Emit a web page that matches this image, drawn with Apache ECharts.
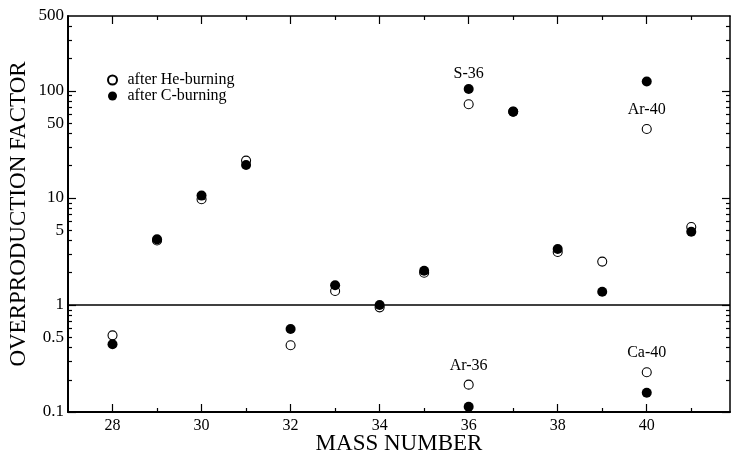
<!DOCTYPE html>
<html>
<head>
<meta charset="utf-8">
<script src="https://cdn.jsdelivr.net/npm/echarts@6/dist/echarts.min.js"></script>
<style>
  html, body { margin: 0; padding: 0; background: #fff; }
  #chart { width: 732px; height: 456px; }
</style>
</head>
<body>
<div id="chart"></div>
<script>
// mass numbers and overproduction factors
const massNumbers = [28, 29, 30, 31, 32, 33, 34, 35, 36, 37, 38, 39, 40, 41]
const heBurning = [0.52, 4.0, 9.7, 22.3, 0.42, 1.35, 0.95, 2.0, 75, 64, 3.12, 2.54, 44, 5.35]
const cBurning = [0.43, 4.1, 10.5, 20.3, 0.595, 1.53, 1.0, 2.09, 104, 63.9, 3.33, 1.33, 122, 4.83]
// second isotope plotted at the same mass number
const lowMassNumbers = [36, 40]
const heBurningLow = [0.18, 0.235]
const cBurningLow = [0.112, 0.151]
// isotope names written next to points
const heLabels = { 40: 'Ar-40' }
const heLowLabels = { 36: 'Ar-36', 40: 'Ca-40' }
const cLabels = { 36: 'S-36' }

const xLabelTicks = [28, 30, 32, 34, 36, 38, 40]
const xMinorTicks = [29, 31, 33, 35, 37, 39, 41]
const yLabelTicks = [0.1, 0.5, 1, 5, 10, 50, 100, 500]
const yMajorTicks = [0.1, 1, 10, 100]
const yMinorTicks = [0.2, 0.3, 0.4, 0.5, 0.6, 0.7, 0.8, 0.9, 2, 3, 4, 5, 6, 7, 8, 9,
  20, 30, 40, 50, 60, 70, 80, 90, 200, 300, 400]

const FONT = 'Liberation Serif'

function points(xs, ys, labels, dist) {
  return xs.map((x, i) => {
    const item = { value: [x, ys[i]] }
    if (labels[x]) {
      item.label = {
        show: true,
        position: 'top',
        distance: dist,
        formatter: labels[x],
        color: '#000',
        fontFamily: FONT,
        fontSize: 16
      }
    }
    return item
  })
}

function xAxis(pos, ticks, len, showLabel, lineWidth) {
  return {
    type: 'value',
    position: pos,
    min: 27,
    max: 41.87,
    axisLine: { show: lineWidth > 0, onZero: false, lineStyle: { color: '#000', width: lineWidth } },
    axisTick: { show: true, inside: true, length: len, customValues: ticks, lineStyle: { color: '#000', width: 1.2 } },
    axisLabel: showLabel
      ? { show: true, customValues: xLabelTicks, color: '#000', fontFamily: FONT, fontSize: 16, margin: 6 }
      : { show: false },
    splitLine: { show: false }
  }
}

function yAxis(pos, ticks, len, showLabel, lineWidth) {
  return {
    type: 'log',
    logBase: 10,
    position: pos,
    min: 0.1,
    max: 500,
    axisLine: { show: lineWidth > 0, onZero: false, lineStyle: { color: '#000', width: lineWidth } },
    axisTick: { show: true, inside: true, length: len, customValues: ticks, lineStyle: { color: '#000', width: 1.2 } },
    axisLabel: showLabel
      ? {
          show: true,
          customValues: yLabelTicks,
          color: '#000',
          fontFamily: FONT,
          fontSize: 17,
          margin: 4,
          formatter: v => String(Math.round(v * 10) / 10)
        }
      : { show: false },
    splitLine: { show: false }
  }
}

const xMain = xAxis('bottom', xLabelTicks, 8, true, 2)
xMain.name = 'MASS NUMBER'
xMain.nameLocation = 'middle'
xMain.nameGap = 20
xMain.nameMoveOverlap = false
xMain.nameTextStyle = { color: '#000', fontFamily: FONT, fontSize: 23 }

const yMain = yAxis('left', yMajorTicks, 8, true, 2)
yMain.name = 'OVERPRODUCTION FACTOR'
yMain.nameLocation = 'middle'
yMain.nameGap = 38
yMain.nameMoveOverlap = false
yMain.nameTextStyle = { color: '#000', fontFamily: FONT, fontSize: 23 }

const chart = echarts.init(document.getElementById('chart'))
chart.setOption({
  animation: false,
  backgroundColor: '#fff',
  grid: { left: 68, right: 2, top: 16, bottom: 44, outerBoundsMode: 'none' },
  legend: {
    left: 107,
    top: 72,
    orient: 'vertical',
    padding: 0,
    itemGap: 0,
    itemWidth: 20,
    itemHeight: 9,
    textStyle: { color: '#000', fontFamily: FONT, fontSize: 16, lineHeight: 16 },
    data: ['after He-burning', 'after C-burning']
  },
  xAxis: [
    xMain,
    xAxis('bottom', xMinorTicks, 4, false, 0),
    xAxis('top', xLabelTicks, 8, false, 1.5),
    xAxis('top', xMinorTicks, 4, false, 0)
  ],
  yAxis: [
    yMain,
    yAxis('left', yMinorTicks, 4, false, 0),
    yAxis('right', yMajorTicks, 8, false, 1.5),
    yAxis('right', yMinorTicks, 4, false, 0)
  ],
  series: [
    {
      name: 'after He-burning',
      type: 'scatter',
      symbol: 'circle',
      symbolSize: 9,
      itemStyle: { color: '#fff', borderColor: '#000', borderWidth: 1.1, opacity: 1 },
      data: points(massNumbers, heBurning, heLabels, 6)
        .concat(points(lowMassNumbers, heBurningLow, heLowLabels, 6)),
      markLine: {
        silent: true,
        symbol: 'none',
        label: { show: false },
        lineStyle: { color: '#000', width: 1.5, type: 'solid' },
        data: [{ yAxis: 1 }]
      }
    },
    {
      name: 'after C-burning',
      type: 'scatter',
      symbol: 'circle',
      symbolSize: 10,
      itemStyle: { color: '#000', opacity: 1 },
      data: points(massNumbers, cBurning, cLabels, 2)
        .concat(points(lowMassNumbers, cBurningLow, {}, 2))
    }
  ]
})
</script>
</body>
</html>
